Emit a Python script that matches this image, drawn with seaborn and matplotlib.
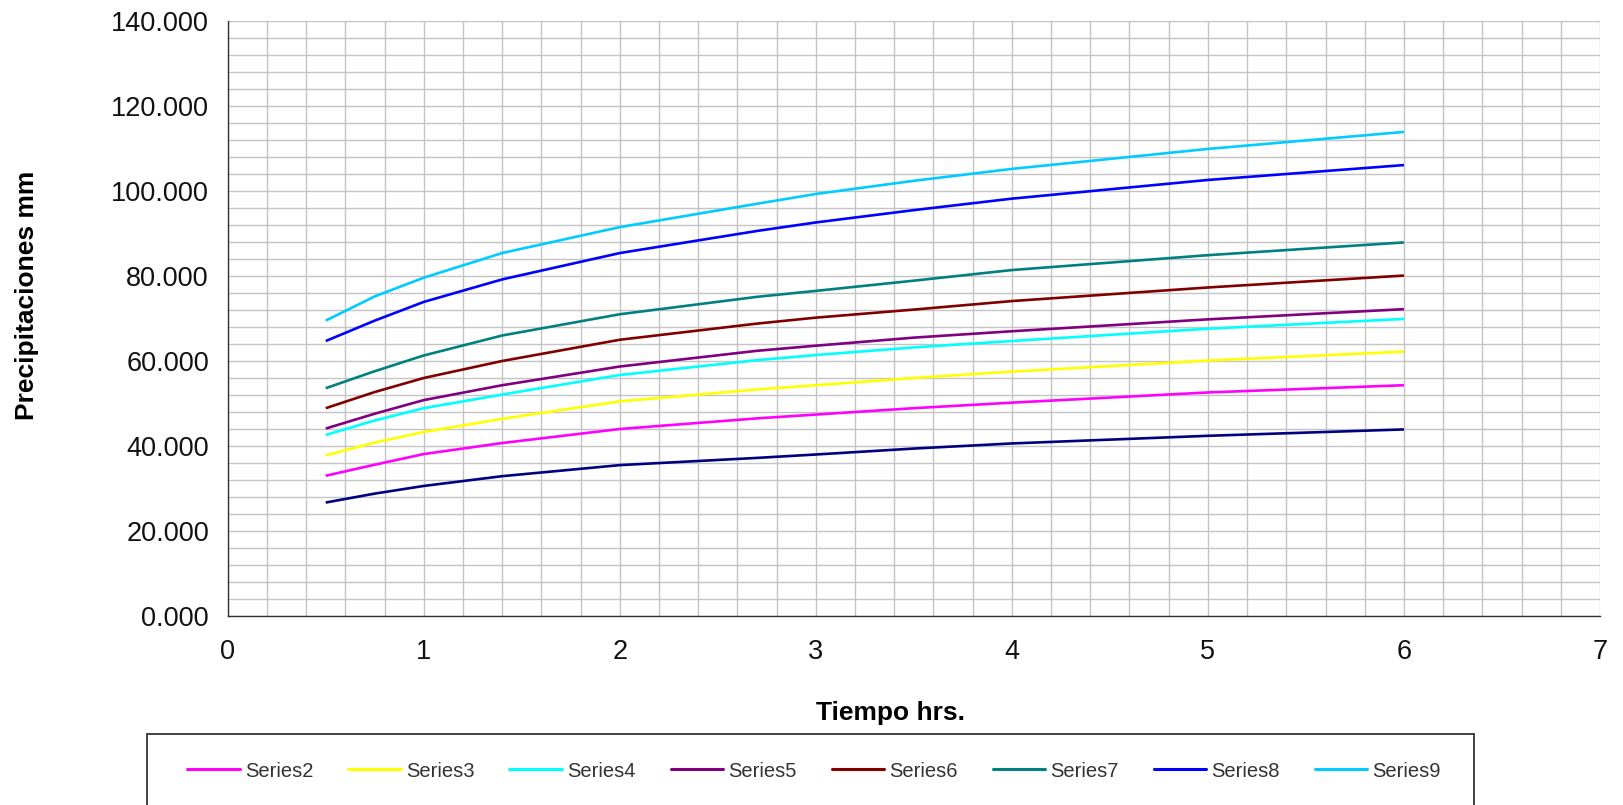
import numpy as np
import pandas as pd
import matplotlib
matplotlib.use("Agg")
import matplotlib.pyplot as plt
from matplotlib.patches import Rectangle
from matplotlib.lines import Line2D
from matplotlib.ticker import MultipleLocator, FuncFormatter
import seaborn as sns

# ---- data ----
tiempo = [0.5, 0.75, 1.0, 1.4, 2.0, 2.7, 3.0, 3.5, 4.0, 5.0, 6.0]
series_names = ["Series1", "Series2", "Series3", "Series4", "Series5",
                "Series6", "Series7", "Series8", "Series9"]
series1 = [26.7, 28.8, 30.6, 32.9, 35.5, 37.2, 38.0, 39.4, 40.6, 42.4, 43.9]
series2 = [33.0, 35.6, 38.1, 40.7, 44.0, 46.5, 47.4, 48.9, 50.2, 52.6, 54.3]
series3 = [37.8, 40.8, 43.3, 46.4, 50.5, 53.3, 54.3, 56.0, 57.5, 60.1, 62.2]
series4 = [42.6, 46.0, 48.9, 52.1, 56.7, 60.2, 61.4, 63.2, 64.7, 67.6, 69.9]
series5 = [44.1, 47.6, 50.8, 54.3, 58.7, 62.4, 63.6, 65.5, 67.0, 69.8, 72.2]
series6 = [48.9, 52.7, 56.0, 60.0, 65.0, 68.8, 70.2, 72.1, 74.1, 77.3, 80.1]
series7 = [53.6, 57.6, 61.3, 66.0, 71.0, 75.1, 76.5, 78.9, 81.4, 84.9, 87.9]
series8 = [64.7, 69.5, 73.9, 79.2, 85.4, 90.6, 92.6, 95.5, 98.2, 102.6, 106.1]
series9 = [69.5, 75.2, 79.6, 85.4, 91.5, 97.0, 99.3, 102.4, 105.2, 109.9, 113.9]
colors = ["#000080", "#FF00FF", "#FFFF00", "#00FFFF", "#800080",
          "#800000", "#008080", "#0000FF", "#00CCFF"]

all_series = [series1, series2, series3, series4, series5,
              series6, series7, series8, series9]
rows = []
for name, vals in zip(series_names, all_series):
    for t, v in zip(tiempo, vals):
        rows.append({"Tiempo": t, "Precip": v, "Serie": name})
df = pd.DataFrame(rows)

sns.set_style("white")
plt.rcParams["font.family"] = ["Liberation Sans", "DejaVu Sans"]

fig = plt.figure(figsize=(16.24, 8.05), dpi=100)
ax = fig.add_axes([227.7 / 1624, 1 - 616 / 805, (1600 - 227.7) / 1624, (616 - 21) / 805])

sns.lineplot(data=df, x="Tiempo", y="Precip", hue="Serie",
             hue_order=series_names, palette=colors, linewidth=1.9,
             estimator=None, legend=False, ax=ax, zorder=3)
for ln in ax.lines:
    ln.set_solid_joinstyle("round")
    ln.set_solid_capstyle("butt")

ax.set_xlim(0, 7)
ax.set_ylim(0, 140)
ax.xaxis.set_major_locator(MultipleLocator(1))
ax.xaxis.set_minor_locator(MultipleLocator(0.2))
ax.yaxis.set_major_locator(MultipleLocator(20))
ax.yaxis.set_minor_locator(MultipleLocator(4))
ax.yaxis.set_major_formatter(FuncFormatter(lambda v, p: f"{v:.3f}"))
ax.grid(True, which="both", color="#c4c4c4", linewidth=1.0, zorder=0)
ax.set_axisbelow(True)

for s in ["top", "right"]:
    ax.spines[s].set_visible(False)
for s in ["left", "bottom"]:
    ax.spines[s].set_color("#333333")
    ax.spines[s].set_linewidth(1.0)

ax.tick_params(axis="both", which="major", direction="out", length=6.5,
               width=1.0, color="#333333", labelsize=19.5, labelcolor="#111111")
ax.tick_params(axis="x", which="major", pad=10)
ax.tick_params(axis="y", which="major", pad=7)
ax.tick_params(axis="both", which="minor", length=0)
ax.set_xlabel("")
ax.set_ylabel("")

fig.text(27 / 1624, 1 - 295 / 805, "Precipitaciones mm", rotation=90,
         ha="center", va="center", fontsize=19, fontweight="bold", color="#000000")
fig.text(891 / 1624, 1 - 713 / 805, "Tiempo hrs.", ha="center", va="center",
         fontsize=19, fontweight="bold", color="#000000")

# legend box (extends past the bottom of the figure)
box = Rectangle((146.7 / 1624, -0.05), (1474 - 146.7) / 1624, (805 - 734) / 805 + 0.05,
                transform=fig.transFigure, fill=False, edgecolor="#333333",
                linewidth=1.3, zorder=5)
fig.patches.append(box)

handles = [Line2D([0], [0], color=c, linewidth=2.2) for c in colors[1:]]
leg = fig.legend(handles, series_names[1:], loc="center",
                 bbox_to_anchor=(814 / 1624, 1 - 771 / 805), ncol=8,
                 frameon=False, fontsize=14.5, handlelength=2.6,
                 handletextpad=0.25, columnspacing=1.75)
for t in leg.get_texts():
    t.set_color("#333333")

fig.savefig("out.png", dpi=100)
